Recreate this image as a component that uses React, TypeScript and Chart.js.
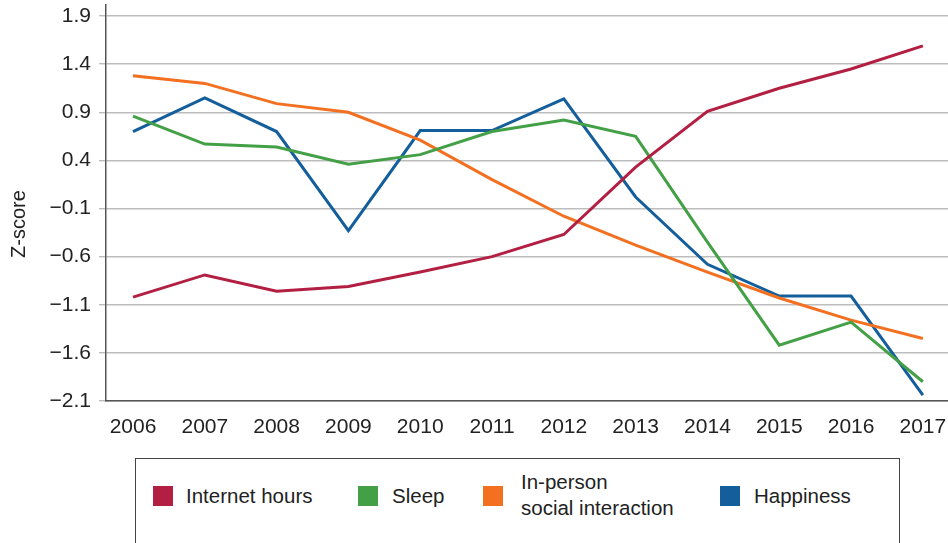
import React, { useEffect, useRef } from "react";
import { Chart, registerables } from "chart.js";

Chart.register(...registerables);

const years = [2006, 2007, 2008, 2009, 2010, 2011, 2012, 2013, 2014, 2015, 2016, 2017];
const internetHours = [-1.02, -0.79, -0.96, -0.91, -0.76, -0.6, -0.37, 0.33, 0.91, 1.15, 1.35, 1.59];
const sleep = [0.86, 0.57, 0.54, 0.36, 0.46, 0.7, 0.82, 0.65, -0.45, -1.52, -1.28, -1.9];
const inPerson = [1.28, 1.2, 0.99, 0.9, 0.61, 0.2, -0.18, -0.48, -0.76, -1.03, -1.26, -1.45];
const happiness = [0.7, 1.05, 0.7, -0.33, 0.71, 0.71, 1.04, 0.02, -0.68, -1.01, -1.01, -2.04];
const yTicks = [-2.1, -1.6, -1.1, -0.6, -0.1, 0.4, 0.9, 1.4, 1.9];
const yTickLabels = ["\u22122.1", "\u22121.6", "\u22121.1", "\u22120.6", "\u22120.1", "0.4", "0.9", "1.4", "1.9"];

const seriesNames = ["Internet hours", "Sleep", "In-person social interaction", "Happiness"];
const colors = ["#B21F42", "#43A046", "#F37021", "#135E9B"];

const FONT = "'Liberation Sans', Arial, Helvetica, sans-serif";

export default function App() {
  const ref = useRef<HTMLCanvasElement | null>(null);

  useEffect(() => {
    if (!ref.current) return;
    const yTitle = {
      id: "yTitle",
      afterDraw(chart: any) {
        const ctx = chart.ctx;
        ctx.save();
        ctx.translate(19, 224);
        ctx.rotate(-Math.PI / 2);
        ctx.font = `20px ${FONT}`;
        ctx.fillStyle = "#222";
        ctx.textAlign = "center";
        ctx.textBaseline = "middle";
        ctx.fillText("Z-score", 0, 0);
        ctx.restore();
      },
    };
    const dataSeries = [internetHours, sleep, inPerson, happiness];
    const chart = new Chart(ref.current, {
      type: "line",
      data: {
        datasets: dataSeries.map((vals, i) => ({
          label: seriesNames[i],
          data: vals.map((v, j) => ({ x: years[j], y: v })),
          borderColor: colors[i],
          backgroundColor: colors[i],
          borderWidth: 3,
          pointRadius: 0,
          tension: 0,
        })),
      },
      options: {
        animation: false,
        responsive: false,
        devicePixelRatio: 1,
        layout: { padding: { top: 5, left: 0, right: 0, bottom: 0 } },
        plugins: { legend: { display: false }, tooltip: { enabled: false }, title: { display: false } },
        scales: {
          x: {
            type: "linear",
            min: 2005.624,
            max: 2017.35,
            afterBuildTicks: (axis: any) => {
              axis.ticks = years.map((v) => ({ value: v }));
            },
            afterFit: (axis: any) => {
              axis.height = 44;
              axis.paddingLeft = 0;
              axis.paddingRight = 0;
            },
            grid: { display: false },
            border: { display: true, color: "#555", width: 1.5 },
            ticks: {
              color: "#222",
              font: { family: FONT, size: 21 },
              padding: 6,
              maxRotation: 0,
              autoSkip: false,
              callback: (v: any) => String(v),
            },
          },
          y: {
            min: -2.1,
            max: 2.015,
            afterBuildTicks: (axis: any) => {
              axis.ticks = yTicks.map((v) => ({ value: v }));
            },
            afterFit: (axis: any) => {
              axis.width = 106;
              axis.paddingTop = 0;
              axis.paddingBottom = 0;
            },
            grid: { color: "#BDBDBD", lineWidth: 1.4, tickLength: 7, drawTicks: true },
            border: { display: true, color: "#555", width: 1.5 },
            ticks: {
              color: "#222",
              font: { family: FONT, size: 21 },
              padding: 8,
              callback: (v: any) => {
                const idx = yTicks.findIndex((t) => Math.abs(t - v) < 1e-6);
                return idx >= 0 ? yTickLabels[idx] : "";
              },
            },
          },
        },
      },
      plugins: [yTitle],
    });
    return () => chart.destroy();
  }, []);

  const legendItems = [
    { swatch: 153, text: 186, label: ["Internet hours"] },
    { swatch: 358, text: 392, label: ["Sleep"] },
    { swatch: 483, text: 521, label: ["In-person", "social interaction"] },
    { swatch: 720, text: 754, label: ["Happiness"] },
  ];

  return (
    <div style={{ position: "absolute", left: 0, top: 0, width: 948, height: 543, background: "#fff", overflow: "hidden", fontFamily: FONT }}>
      <canvas ref={ref} width={948} height={445} style={{ position: "absolute", left: 0, top: 0, width: 948, height: 445 }} />
      <div style={{ position: "absolute", left: 135, top: 458, width: 765, height: 120, border: "1.5px solid #444", boxSizing: "border-box" }} />
      {legendItems.map((it, i) => (
        <React.Fragment key={i}>
          <div style={{ position: "absolute", left: it.swatch, top: 486, width: 20, height: 20, background: colors[i] }} />
          <div
            style={{
              position: "absolute",
              left: it.text,
              top: it.label.length > 1 ? 469 : 483,
              fontSize: 20.5,
              lineHeight: "26px",
              color: "#222",
              whiteSpace: "nowrap",
            }}
          >
            {it.label.map((l, k) => (
              <div key={k}>{l}</div>
            ))}
          </div>
        </React.Fragment>
      ))}
    </div>
  );
}
